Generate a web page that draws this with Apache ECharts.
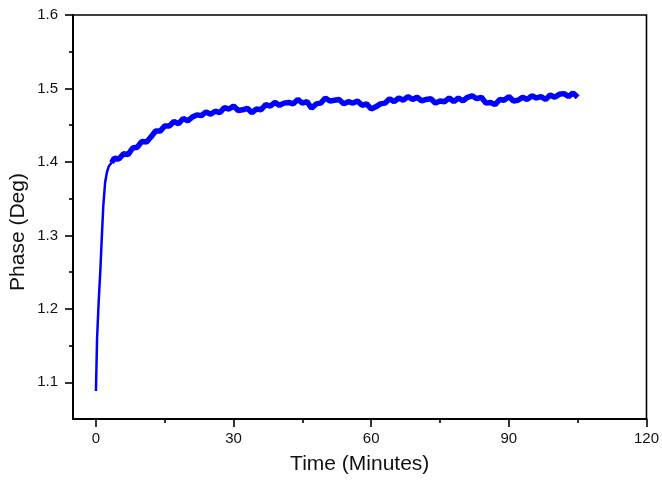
<!DOCTYPE html>
<html>
<head>
<meta charset="utf-8">
<script src="https://cdn.jsdelivr.net/npm/echarts@6/dist/echarts.min.js"></script>
<style>html,body{margin:0;padding:0;background:#fff}#c{width:662px;height:480px}</style>
</head>
<body>
<div id="c"></div>
<script>
// Time in minutes
var timeMin = [0, 0.25, 0.6, 0.94, 1.3, 1.6, 2.0, 2.4, 2.8, 3.4,
  4, 5, 6, 7, 8, 9, 10, 11, 12, 13, 14, 15, 16, 17, 18, 19, 20, 21, 22, 23,
  24, 25, 26, 27, 28, 29, 30, 31, 32, 33, 34, 35, 36, 37, 38, 39, 40, 41, 42, 43,
  44, 45, 46, 47, 48, 49, 50, 51, 52, 53, 54, 55, 56, 57, 58, 59, 60, 61, 62, 63,
  64, 65, 66, 67, 68, 69, 70, 71, 72, 73, 74, 75, 76, 77, 78, 79, 80, 81, 82, 83,
  84, 85, 86, 87, 88, 89, 90, 91, 92, 93, 94, 95, 96, 97, 98, 99, 100, 101, 102, 103,
  104, 105];
// Phase in degrees
var phaseDeg = [1.088, 1.16, 1.21, 1.25, 1.30, 1.34, 1.372, 1.386, 1.394, 1.399,
  1.405, 1.404, 1.411, 1.410, 1.419, 1.420, 1.428, 1.427, 1.434, 1.442, 1.442, 1.449, 1.449, 1.455, 1.452, 1.459, 1.456, 1.461, 1.464, 1.463,
  1.468, 1.465, 1.469, 1.467, 1.474, 1.472, 1.476, 1.470, 1.471, 1.473, 1.467, 1.472, 1.471, 1.478, 1.476, 1.481, 1.477, 1.480, 1.481, 1.479,
  1.485, 1.480, 1.482, 1.473, 1.479, 1.480, 1.487, 1.483, 1.484, 1.485, 1.479, 1.482, 1.480, 1.483, 1.477, 1.479, 1.472, 1.475, 1.479, 1.480,
  1.486, 1.482, 1.487, 1.484, 1.489, 1.485, 1.488, 1.483, 1.485, 1.486, 1.480, 1.483, 1.482, 1.487, 1.482, 1.487, 1.483, 1.488, 1.490, 1.486,
  1.488, 1.480, 1.481, 1.478, 1.485, 1.484, 1.489, 1.483, 1.484, 1.488, 1.485, 1.490, 1.487, 1.489, 1.485, 1.491, 1.488, 1.492, 1.493, 1.489,
  1.494, 1.488];
var xMajorTicks = [0, 30, 60, 90, 120];
var xMinorTicks = [15, 45, 75, 105];
var yMajorTicks = [1.1, 1.2, 1.3, 1.4, 1.5, 1.6];
var yMinorTicks = [1.15, 1.25, 1.35, 1.45, 1.55];
var riseEndIndex = 9; // last point of the steep initial rise

var seriesData = timeMin.map(function (t, i) { return [t, phaseDeg[i]]; });
var riseData = seriesData.slice(0, riseEndIndex + 2);
var plateauData = seriesData.slice(riseEndIndex);

var chart = echarts.init(document.getElementById('c'), null, {renderer: 'canvas'});
var font = 'Liberation Sans, Arial, sans-serif';
chart.setOption({
  animation: false,
  backgroundColor: '#fff',
  grid: {left: 73, right: 15, top: 15, bottom: 59, show: true, borderColor: '#000', borderWidth: 1.6, containLabel: false},
  xAxis: [{
    type: 'value', min: -5, max: 120,
    name: 'Time (Minutes)', nameLocation: 'middle', nameGap: 35,
    nameTextStyle: {fontFamily: font, fontSize: 21, color: '#111'},
    axisLine: {show: true, onZero: false, lineStyle: {color: '#000', width: 2}},
    axisTick: {show: true, inside: false, length: 8, customValues: xMajorTicks, lineStyle: {color: '#000', width: 1.6}},
    axisLabel: {show: true, margin: 12, customValues: xMajorTicks, fontFamily: font, fontSize: 15, color: '#111'},
    splitLine: {show: false}
  }, {
    type: 'value', min: -5, max: 120, position: 'bottom',
    axisLine: {show: false, onZero: false},
    axisTick: {show: true, inside: false, length: 4, customValues: xMinorTicks, lineStyle: {color: '#000', width: 1.6}},
    axisLabel: {show: false},
    splitLine: {show: false}
  }],
  yAxis: [{
    type: 'value', min: 1.05, max: 1.6,
    axisLine: {show: true, onZero: false, lineStyle: {color: '#000', width: 2}},
    axisTick: {show: true, inside: false, length: 8, customValues: yMajorTicks, lineStyle: {color: '#000', width: 1.6}},
    axisLabel: {show: true, margin: 15, customValues: yMajorTicks, fontFamily: font, fontSize: 15, color: '#111',
      formatter: function (v) { return v.toFixed(1); }},
    splitLine: {show: false}
  }, {
    type: 'value', min: 1.05, max: 1.6, position: 'left',
    axisLine: {show: false, onZero: false},
    axisTick: {show: true, inside: false, length: 4, customValues: yMinorTicks, lineStyle: {color: '#000', width: 1.6}},
    axisLabel: {show: false},
    splitLine: {show: false}
  }],
  graphic: [{
    type: 'text', x: 18, y: 232, rotation: Math.PI / 2,
    style: {text: 'Phase (Deg)', fontFamily: font, fontSize: 21, fill: '#111', align: 'center', verticalAlign: 'middle'}
  }],
  series: [{
    type: 'line', xAxisIndex: 0, yAxisIndex: 0,
    data: riseData, showSymbol: false, symbol: 'none',
    lineStyle: {color: '#0000ff', width: 2.5, join: 'round'},
    itemStyle: {color: '#0000ff'}
  }, {
    type: 'line', xAxisIndex: 0, yAxisIndex: 0,
    data: plateauData, showSymbol: false, symbol: 'none',
    lineStyle: {color: '#0000ff', width: 5.5, join: 'bevel'},
    itemStyle: {color: '#0000ff'}
  }]
});
</script>
</body>
</html>
